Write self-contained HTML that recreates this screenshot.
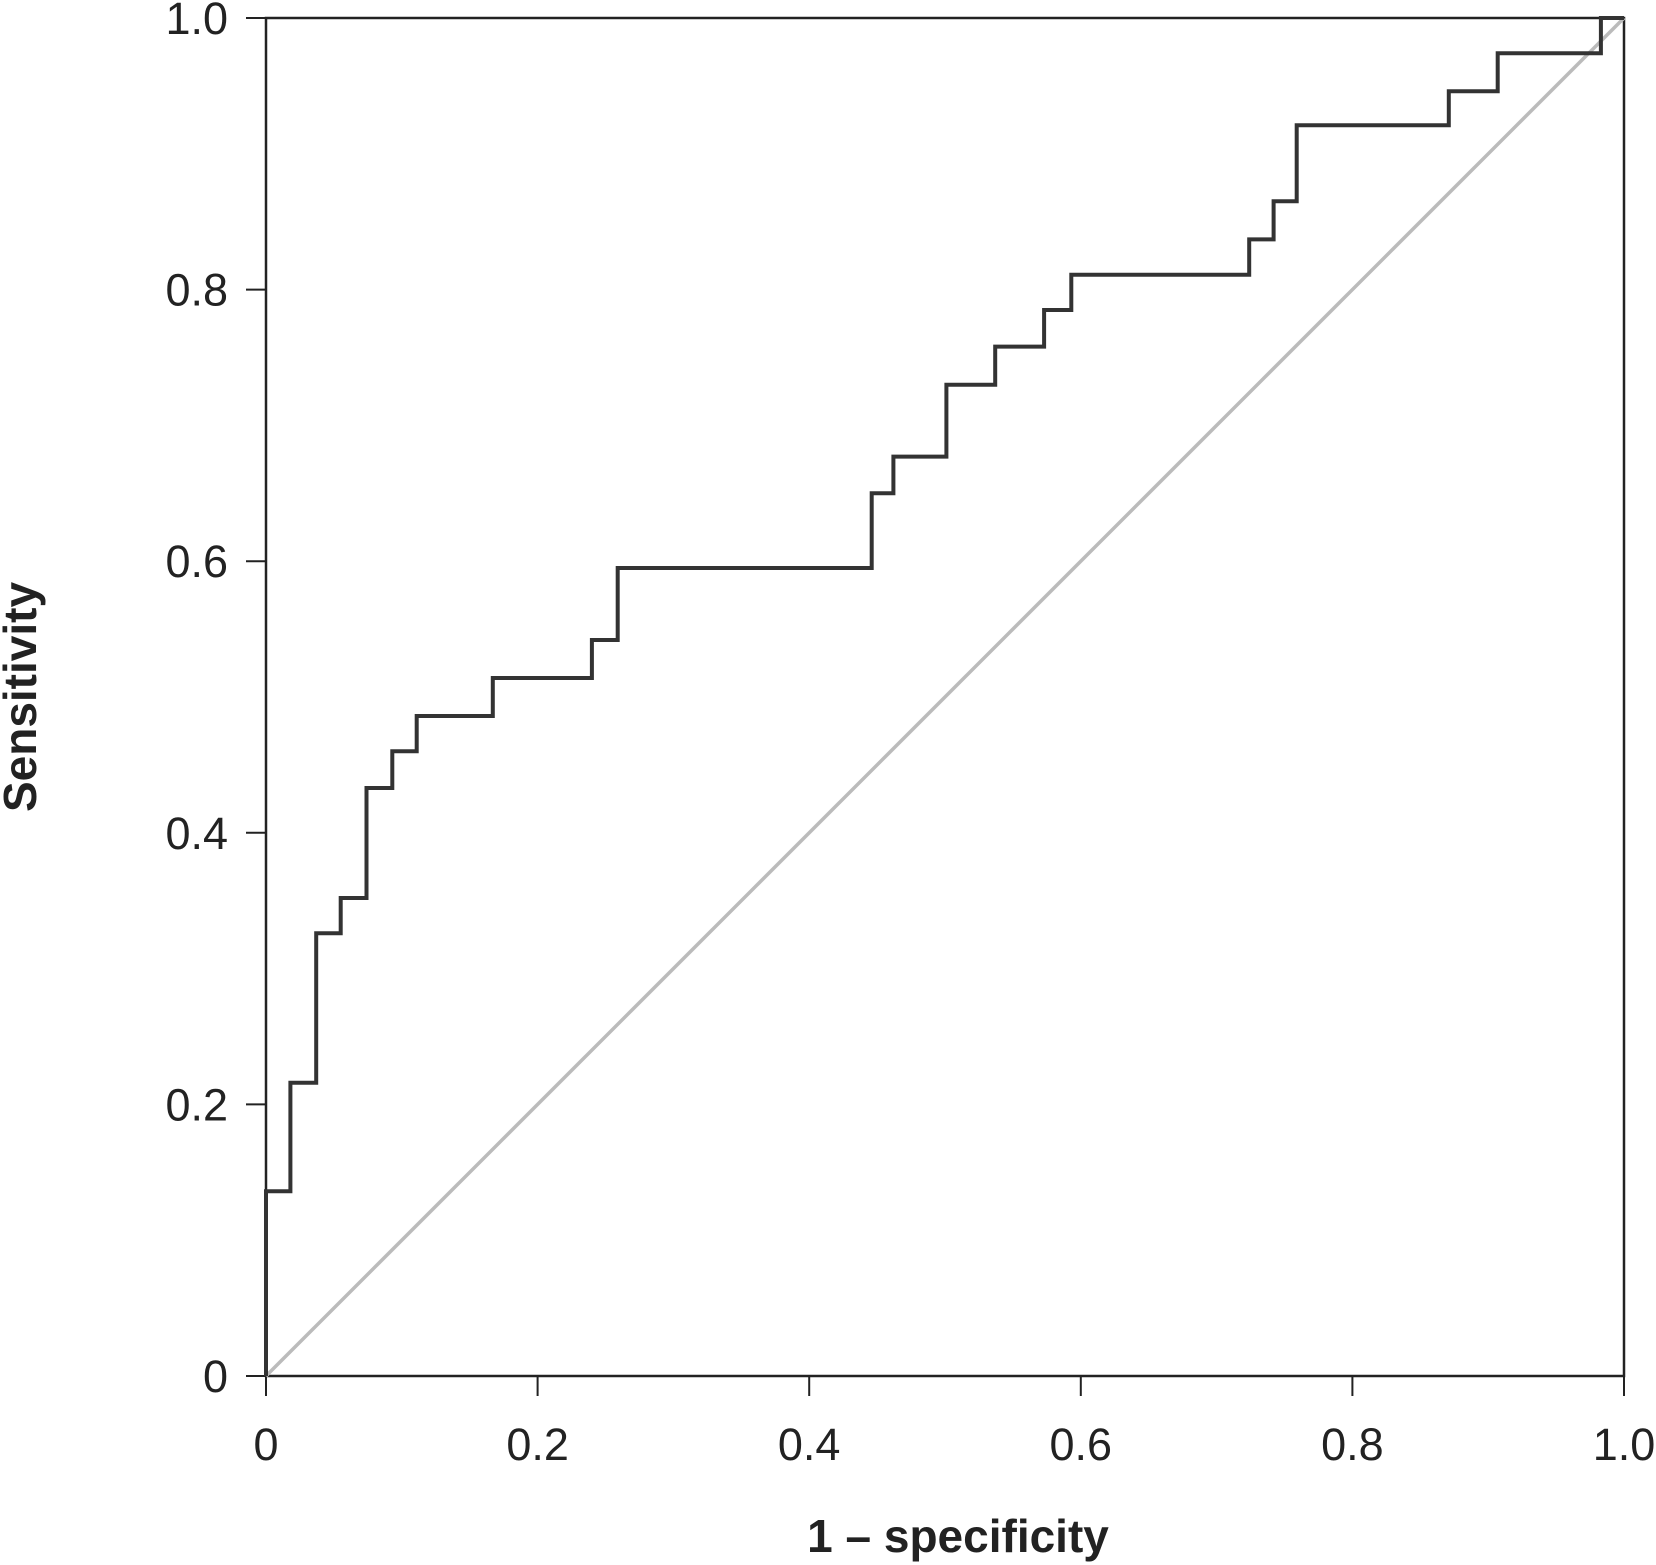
<!DOCTYPE html>
<html><head><meta charset="utf-8"><style>
html,body{margin:0;padding:0;background:#fff;}
svg{display:block;font-family:"Liberation Sans",sans-serif;}
</style></head><body>
<svg id="chart" width="1656" height="1565" viewBox="0 0 1656 1565">
<g id="axes"></g><g id="plot"></g>
<text x="958" y="1552" text-anchor="middle" font-size="46" font-weight="bold" fill="#222">1 – specificity</text>
<text transform="translate(36,697) rotate(-90)" text-anchor="middle" font-size="46" font-weight="bold" fill="#222">Sensitivity</text>
</svg>
<script>
const fpr = [0, 0, 0.018, 0.018, 0.037, 0.037, 0.055, 0.055, 0.074, 0.074, 0.093, 0.093, 0.111, 0.111, 0.167, 0.167, 0.240, 0.240, 0.259, 0.259, 0.446, 0.446, 0.462, 0.462, 0.501, 0.501, 0.537, 0.537, 0.573, 0.573, 0.593, 0.593, 0.724, 0.724, 0.742, 0.742, 0.759, 0.759, 0.871, 0.871, 0.907, 0.907, 0.983, 0.983, 1];
const tpr = [0, 0.136, 0.136, 0.216, 0.216, 0.326, 0.326, 0.352, 0.352, 0.433, 0.433, 0.460, 0.460, 0.486, 0.486, 0.514, 0.514, 0.542, 0.542, 0.595, 0.595, 0.650, 0.650, 0.677, 0.677, 0.730, 0.730, 0.758, 0.758, 0.785, 0.785, 0.811, 0.811, 0.837, 0.837, 0.865, 0.865, 0.921, 0.921, 0.946, 0.946, 0.974, 0.974, 1, 1];
const tickValues = [0, 0.2, 0.4, 0.6, 0.8, 1.0];
const tickLabels = ["0", "0.2", "0.4", "0.6", "0.8", "1.0"];

const NS = "http://www.w3.org/2000/svg";
const X0 = 266, X1 = 1624, Y0 = 1376, Y1 = 18;
const xs = v => X0 + v * (X1 - X0);
const ys = v => Y0 - v * (Y0 - Y1);
function mk(tag, attrs, parent) {
  const e = document.createElementNS(NS, tag);
  for (const k in attrs) e.setAttribute(k, attrs[k]);
  parent.appendChild(e); return e;
}
const axes = document.getElementById('axes');
const plot = document.getElementById('plot');

const frame = mk('rect', {x: X0, y: Y1, width: X1 - X0, height: Y0 - Y1, fill: 'none', stroke: '#222', 'stroke-width': 2.5}, axes);



tickValues.forEach((v, i) => {
  const xt = mk('line', {x1: xs(v), x2: xs(v), y1: Y0, y2: Y0 + 20, stroke: '#222', 'stroke-width': 2}, axes);
  
  
  const xl = mk('text', {x: xs(v), y: Y0 + 84, 'text-anchor': 'middle', 'font-size': 45, fill: '#222'}, axes);
  xl.textContent = tickLabels[i];
  
  
  const yt = mk('line', {x1: X0 - 20, x2: X0, y1: ys(v), y2: ys(v), stroke: '#222', 'stroke-width': 2}, axes);
  
  
  const yl = mk('text', {x: X0 - 38, y: ys(v) + 16, 'text-anchor': 'end', 'font-size': 45, fill: '#222'}, axes);
  yl.textContent = tickLabels[i];
  
  
});

const diag = mk('line', {x1: xs(0), y1: ys(0), x2: xs(1), y2: ys(1), stroke: '#bbb', 'stroke-width': 3.5}, plot);



const d = fpr.map((f, i) => (i ? 'L' : 'M') + xs(f).toFixed(1) + ',' + ys(tpr[i]).toFixed(1)).join(' ');
const roc = mk('path', {d: d, fill: 'none', stroke: '#333', 'stroke-width': 4, 'stroke-linejoin': 'miter'}, plot);


</script>
</body></html>
